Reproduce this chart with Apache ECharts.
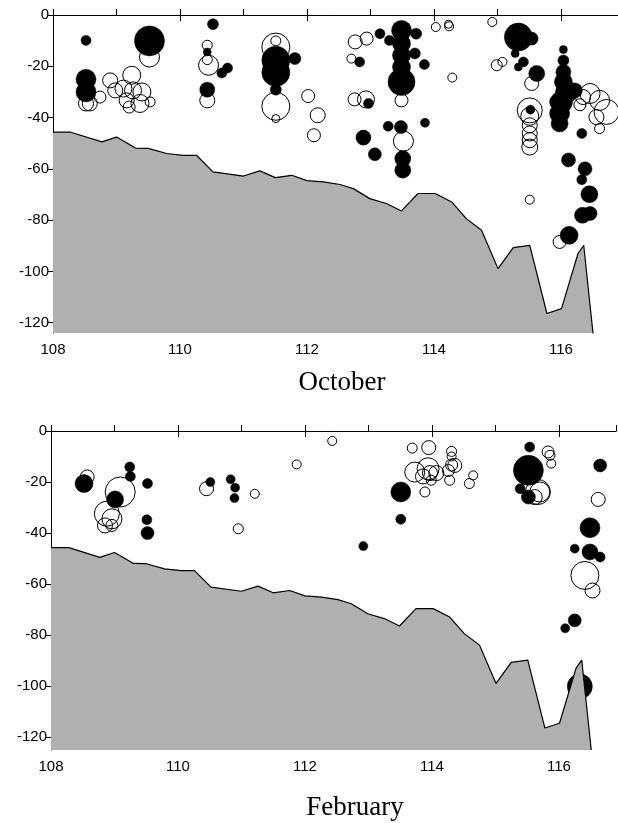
<!DOCTYPE html>
<html>
<head>
<meta charset="utf-8">
<script src="https://cdn.jsdelivr.net/npm/echarts@6/dist/echarts.min.js"></script>
<style>
  html, body { margin: 0; padding: 0; background: #fff; }
  #chart { width: 618px; height: 823px; }
</style>
</head>
<body>
<div id="chart"></div>
<script>
// bottom profile along the transect: longitude, depth (m, positive down)
const bathyLon = [108.0, 108.28, 108.77, 109.0, 109.3, 109.5, 109.79, 110.05, 110.26, 110.52,
  111.0, 111.26, 111.5, 111.76, 112.0, 112.26, 112.52, 112.73, 112.99, 113.25, 113.49, 113.75,
  114.02, 114.28, 114.51, 114.75, 115.01, 115.25, 115.51, 115.78, 116.01, 116.27, 116.36, 116.51];
const bathyDepth = [45.7, 45.7, 49.5, 47.6, 51.9, 52.0, 54.0, 54.7, 54.7, 61.2,
  62.8, 60.8, 63.4, 62.5, 64.6, 65.1, 66.1, 67.7, 71.6, 73.5, 76.4, 69.6,
  69.6, 72.9, 79.4, 83.9, 98.9, 90.7, 89.8, 116.4, 114.5, 93.0, 89.8, 125];

const depthTicks = [0, 20, 40, 60, 80, 100, 120];
const lonLabels = [108, 110, 112, 114, 116];

// [longitude, depth, bubble size]
const octFilled = [
  [108.52, 9.9, 10], [109.52, 10.1, 30], [108.52, 25.1, 20], [108.52, 30.0, 20],
  [110.52, 3.6, 11], [110.43, 14.4, 8], [110.43, 29.1, 15], [110.66, 22.6, 10], [110.75, 20.7, 10],
  [111.51, 17.6, 28], [111.51, 22.4, 28], [111.81, 17.0, 12], [111.51, 29.1, 11],
  [112.83, 18.3, 10], [112.97, 34.5, 10], [113.15, 7.3, 10], [113.30, 9.9, 10],
  [113.49, 6.0, 20], [113.72, 7.3, 11], [113.49, 11.2, 18], [113.49, 15.7, 18], [113.70, 15.0, 11],
  [113.49, 20.3, 18], [113.49, 26.1, 27], [113.85, 19.3, 10],
  [113.28, 43.4, 10], [113.48, 43.7, 13], [113.86, 42.0, 9], [112.89, 47.8, 15],
  [113.07, 54.3, 13], [113.51, 56.0, 16], [113.51, 60.5, 16],
  [115.33, 8.6, 28], [115.54, 9.2, 13], [115.28, 15.0, 8], [115.41, 18.3, 10], [115.33, 20.3, 8],
  [115.62, 22.8, 16], [115.52, 36.9, 9],
  [116.04, 13.5, 8], [116.04, 17.7, 11], [116.04, 22.2, 15], [116.04, 26.1, 18], [116.09, 30.0, 22],
  [116.22, 29.4, 15], [116.01, 33.9, 22], [115.94, 33.9, 15], [115.98, 38.4, 20], [115.98, 42.3, 17],
  [116.33, 46.2, 10], [116.12, 56.5, 14], [116.38, 60.0, 14], [116.33, 64.2, 10], [116.45, 69.9, 17],
  [116.34, 78.1, 16], [116.46, 77.4, 14], [116.13, 85.9, 18]
];
const octOpen = [
  [109.52, 16.4, 20], [109.24, 23.5, 18], [108.90, 25.5, 15], [108.98, 29.4, 15], [109.11, 28.7, 17],
  [109.26, 29.4, 17], [109.40, 30.0, 18], [109.16, 33.3, 15], [109.37, 34.5, 18], [109.20, 35.9, 12],
  [109.53, 33.9, 10], [108.74, 32.0, 12], [108.58, 34.5, 15], [108.52, 34.5, 15],
  [110.43, 11.8, 10], [110.43, 17.4, 10], [110.45, 19.6, 20], [110.43, 33.3, 15],
  [111.51, 12.5, 28], [111.51, 10.1, 10], [111.51, 35.6, 28], [111.51, 40.4, 8],
  [112.02, 31.6, 13], [112.17, 39.1, 15], [112.11, 46.9, 13], [112.76, 10.5, 14], [112.94, 9.2, 13],
  [112.70, 17.0, 9], [112.75, 32.9, 13], [112.93, 32.9, 17], [113.49, 33.3, 13],
  [114.03, 4.7, 9], [114.23, 3.6, 8], [114.24, 4.4, 9], [114.29, 24.4, 9], [113.52, 49.2, 20],
  [114.92, 2.7, 9], [114.99, 19.6, 11], [115.08, 18.3, 9], [115.54, 26.7, 14],
  [115.51, 37.2, 25], [115.51, 39.5, 18], [115.51, 43.0, 15], [115.51, 46.2, 15], [115.51, 48.8, 15],
  [115.51, 51.5, 16], [116.46, 30.6, 20], [116.61, 33.3, 20], [116.72, 37.8, 25], [116.56, 39.8, 15],
  [116.61, 44.3, 10], [116.35, 32.0, 15], [116.30, 35.0, 12], [115.98, 88.5, 13], [115.51, 72.0, 9]
];

const febFilled = [
  [108.52, 20.6, 18], [109.24, 14.1, 10], [109.25, 17.8, 10], [109.01, 26.8, 17], [109.52, 20.6, 10],
  [109.51, 34.8, 10], [109.52, 40.0, 13], [110.51, 20.0, 9], [110.83, 18.9, 9], [110.90, 22.2, 9],
  [110.89, 26.3, 9], [112.92, 45.1, 9], [113.51, 23.9, 20], [113.51, 34.6, 10],
  [115.54, 6.3, 10], [115.52, 15.4, 30], [115.39, 22.6, 10], [115.52, 25.9, 14],
  [116.65, 13.5, 13], [116.49, 37.9, 20], [116.49, 47.4, 16], [116.25, 46.1, 9], [116.65, 49.4, 10],
  [116.25, 74.2, 13], [116.10, 77.3, 9], [116.33, 100.1, 25]
];
const febOpen = [
  [108.57, 18.0, 14], [109.09, 23.9, 30], [108.88, 32.4, 25], [108.96, 34.4, 20], [108.85, 37.0, 15],
  [108.96, 37.0, 12], [110.45, 22.6, 14], [111.21, 24.6, 9], [110.95, 38.3, 10], [111.87, 13.1, 9],
  [112.43, 3.9, 9], [113.69, 6.7, 10], [113.95, 6.5, 14], [113.89, 23.9, 10], [113.73, 16.1, 20],
  [113.94, 14.8, 22], [113.97, 16.5, 15], [114.07, 16.5, 15], [113.86, 17.8, 15], [113.99, 19.3, 10],
  [114.31, 8.0, 10], [114.31, 10.0, 9], [114.31, 13.3, 12], [114.36, 13.5, 14], [114.28, 19.3, 10],
  [114.26, 15.5, 12], [114.65, 17.4, 9], [114.59, 20.6, 10],
  [115.67, 23.9, 25], [115.70, 23.9, 20], [115.62, 25.9, 15], [115.83, 8.2, 12], [115.86, 9.5, 10],
  [115.88, 12.8, 9], [116.62, 26.8, 14], [116.41, 56.6, 28], [116.53, 62.5, 15]
];

const bathy = bathyLon.map((x, i) => [x, bathyDepth[i]]);
const black = "#000";
const labelFont = { color: black, fontFamily: "Liberation Sans", fontSize: 15 };

function xAxes(gridIndex) {
  return [
    {
      gridIndex: gridIndex,
      type: "value",
      position: "bottom",
      min: 108,
      max: 116.9,
      interval: 2,
      axisLine: { lineStyle: { color: black, width: 1 } },
      axisTick: { length: 6, lineStyle: { color: black } },
      axisLabel: Object.assign({}, labelFont, {
        margin: 9,
        showMaxLabel: false,
        formatter: (v) => (lonLabels.includes(v) ? String(v) : ""),
      }),
      splitLine: { show: false },
    },
    {
      gridIndex: gridIndex,
      type: "value",
      position: "top",
      min: 108,
      max: 116.9,
      interval: 1,
      axisLine: { lineStyle: { color: black, width: 1 } },
      axisTick: { length: 6, lineStyle: { color: black } },
      axisLabel: { show: false },
      splitLine: { show: false },
    },
  ];
}

function yAxis(gridIndex, max) {
  return {
    gridIndex: gridIndex,
    type: "value",
    inverse: true,
    min: 0,
    max: max,
    interval: 20,
    axisLine: { lineStyle: { color: black, width: 1 } },
    axisTick: { length: 5, lineStyle: { color: black } },
    axisLabel: Object.assign({}, labelFont, {
      margin: 4,
      showMaxLabel: false,
      formatter: (v) => (depthTicks.includes(v) ? (v === 0 ? "0" : "-" + v) : ""),
    }),
    splitLine: { show: false },
  };
}

function panelSeries(idx, open, filled) {
  return [
    {
      type: "scatter",
      xAxisIndex: idx * 2,
      yAxisIndex: idx,
      data: open,
      symbolSize: (d) => d[2],
      itemStyle: { color: "rgba(0,0,0,0)", borderColor: black, borderWidth: 1, opacity: 1 },
      silent: true,
      z: 2,
    },
    {
      type: "scatter",
      xAxisIndex: idx * 2,
      yAxisIndex: idx,
      data: filled,
      symbolSize: (d) => d[2],
      itemStyle: { color: black, borderColor: black, borderWidth: 0.5, opacity: 1 },
      silent: true,
      z: 3,
    },
    {
      type: "line",
      xAxisIndex: idx * 2,
      yAxisIndex: idx,
      data: bathy,
      symbol: "none",
      lineStyle: { color: black, width: 1.2 },
      areaStyle: { color: "#b0b0b0", opacity: 1, origin: "end" },
      silent: true,
      z: 4,
    },
  ];
}

const chart = echarts.init(document.getElementById("chart"), null, { renderer: "canvas" });
const option = {
  animation: false,
  backgroundColor: "#fff",
  grid: [
    { left: 53, top: 15, width: 565, height: 318 },
    { left: 51, top: 431, width: 565, height: 319 },
  ],
  xAxis: [...xAxes(0), ...xAxes(1)],
  yAxis: [yAxis(0, 124), yAxis(1, 125)],
  series: [...panelSeries(0, octOpen, octFilled), ...panelSeries(1, febOpen, febFilled)],
  graphic: [
    {
      type: "text",
      x: 342,
      y: 383,
      style: {
        text: "October",
        fill: black,
        font: '27px "Liberation Serif"',
        textAlign: "center",
        textVerticalAlign: "middle",
      },
    },
    {
      type: "text",
      x: 355,
      y: 808,
      style: {
        text: "February",
        fill: black,
        font: '27px "Liberation Serif"',
        textAlign: "center",
        textVerticalAlign: "middle",
      },
    },
  ],
};
chart.setOption(option);
</script>
</body>
</html>
